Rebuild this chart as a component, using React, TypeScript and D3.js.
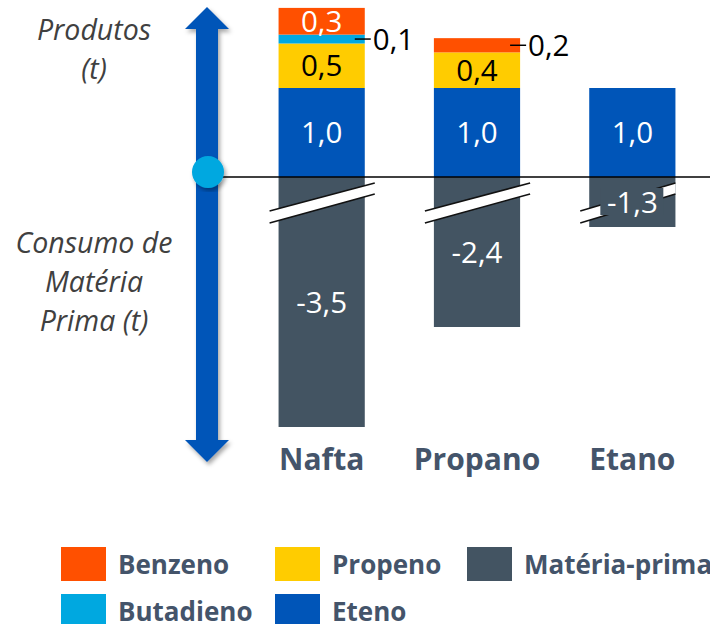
import React from 'react';
import * as d3 from 'd3';

// feedstock categories and product yields (t of product per t of ethylene)
const categories = ['Nafta', 'Propano', 'Etano'];
const eteno = [1.0, 1.0, 1.0];
const propeno = [0.5, 0.4, 0];
const butadieno = [0.1, 0, 0];
const benzeno = [0.3, 0.16, 0];
const materiaPrima = [-3.5, -2.4, -1.3];

const seriesKeys = ['Eteno', 'Propeno', 'Butadieno', 'Benzeno'];
const seriesValues: Record<string, number[]> = {
  Eteno: eteno,
  Propeno: propeno,
  Butadieno: butadieno,
  Benzeno: benzeno,
};

const COLORS: Record<string, string> = {
  Benzeno: '#FF5000',
  Butadieno: '#00A8E0',
  Propeno: '#FFCC00',
  Eteno: '#0055B8',
  'Matéria-prima': '#435462',
};
const LABEL_COLORS: Record<string, string> = {
  Benzeno: '#fff',
  Butadieno: '#000',
  Propeno: '#000',
  Eteno: '#fff',
};

const legendRows = [
  ['Benzeno', 'Propeno', 'Matéria-prima'],
  ['Butadieno', 'Eteno'],
];
const legendX = [61, 275, 467];

const W = 710;
const H = 624;
const ZERO = 177;
const TEXT_BLUE = '#44546A';
const FONT = '"Open Sans", "Noto Sans", sans-serif';

const fmt = (v: number) => d3.format('.1f')(v).replace('.', ',').replace('−', '-');

const App: React.FC = () => {
  const x = d3.scaleBand<string>().domain(categories).range([244, 710]).paddingInner(0.445).paddingOuter(0.2225);
  const yPos = d3.scaleLinear().domain([0, 1]).range([ZERO, 88]);
  // broken axis below zero: first 0.75 t cut out by the break marks
  const yNeg = d3.scaleLinear().domain([-0.75, -3.5]).range([ZERO, 427]);

  const table = categories.map((c, i) => {
    const row: any = { cat: c };
    seriesKeys.forEach(k => (row[k] = seriesValues[k][i]));
    return row;
  });
  const stacked = d3.stack<any>().keys(seriesKeys)(table);
  const bw = x.bandwidth();

  return (
    <svg width={W} height={H} style={{ position: 'absolute', left: 0, top: 0, background: '#fff' }}>
      <defs>
        <filter id="shadow" x="-50%" y="-10%" width="200%" height="120%">
          <feDropShadow dx="2" dy="3" stdDeviation="2" floodColor="#000" floodOpacity="0.35" />
        </filter>
      </defs>

      {/* left annotations */}
      <g fontFamily={FONT} fontStyle="italic" fontSize={28.5} fill="#404040" textAnchor="middle">
        <text x={94} y={40}>Produtos</text>
        <text x={94} y={79}>(t)</text>
        <text x={94} y={253}>Consumo de</text>
        <text x={94} y={292}>Matéria</text>
        <text x={94} y={331}>Prima (t)</text>
      </g>

      {/* double arrow */}
      <path
        d="M207,7 L229,29 L218,29 L218,440 L229,440 L207,462 L185,440 L196,440 L196,29 L185,29 Z"
        fill="#0055B8"
        filter="url(#shadow)"
      />

      {/* negative bars (feedstock) */}
      {categories.map((c, i) => (
        <rect key={c} x={x(c)} y={ZERO} width={bw} height={yNeg(materiaPrima[i]) - ZERO} fill={COLORS['Matéria-prima']} />
      ))}

      {/* positive stacked bars */}
      {stacked.map(s =>
        s.map((d, i) =>
          d[1] - d[0] > 0 ? (
            <rect
              key={s.key + i}
              x={x(categories[i])}
              y={yPos(d[1])}
              width={bw}
              height={yPos(d[0]) - yPos(d[1])}
              fill={COLORS[s.key]}
            />
          ) : null
        )
      )}

      {/* zero line */}
      <line x1={215} x2={W} y1={ZERO} y2={ZERO} stroke="#000" strokeWidth={1.6} />

      {/* axis break marks */}
      {categories.map((c, i) => {
        const x0 = (x(c) as number) - 9;
        const x1 = (x(c) as number) + bw + (i === categories.length - 1 ? 0 : 10);
        const yr = i === categories.length - 1 ? 0 : 0;
        return (
          <g key={c}>
            <polygon points={`${x0},${ZERO + 34} ${x1},${ZERO + 6 + yr} ${x1},${ZERO + 17 + yr} ${x0},${ZERO + 46}`} fill="#fff" />
            <line x1={x0} y1={ZERO + 34} x2={x1} y2={ZERO + 6 + yr} stroke="#111" strokeWidth={1.5} />
            <line x1={x0} y1={ZERO + 46} x2={x1} y2={ZERO + 17 + yr} stroke="#111" strokeWidth={1.5} />
          </g>
        );
      })}

      {/* circle on the arrow */}
      <circle cx={208} cy={172} r={16} fill="#00A8E0" filter="url(#shadow)" />

      {/* negative value labels */}
      {categories.map((c, i) => {
        const cx = (x(c) as number) + bw / 2;
        const cy = (ZERO + yNeg(materiaPrima[i])) / 2;
        const short = yNeg(materiaPrima[i]) - ZERO < 80;
        return (
          <g key={c}>
            {short && <rect x={cx - 32} y={cy - 14} width={63} height={27} fill={COLORS['Matéria-prima']} />}
            <text x={cx} y={cy} dy="0.36em" textAnchor="middle" fontFamily={FONT} fontSize={29.5} fill="#fff">
              {fmt(materiaPrima[i])}
            </text>
          </g>
        );
      })}

      {/* positive value labels */}
      {stacked.map(s =>
        s.map((d, i) => {
          const v = d[1] - d[0];
          if (v <= 0) return null;
          const cy = (yPos(d[0]) + yPos(d[1])) / 2;
          const left = x(categories[i]) as number;
          if (v < 0.25) {
            return (
              <g key={s.key + i}>
                <line x1={left + bw - 10} x2={left + bw + 6} y1={cy} y2={cy} stroke="#000" strokeWidth={1.5} />
                <text x={left + bw + 8} y={cy} dy="0.36em" fontFamily={FONT} fontSize={29.5} fill="#000">
                  {fmt(v)}
                </text>
              </g>
            );
          }
          return (
            <text
              key={s.key + i}
              x={left + bw / 2}
              y={cy}
              dy="0.36em"
              textAnchor="middle"
              fontFamily={FONT}
              fontSize={29.5}
              fill={LABEL_COLORS[s.key]}
            >
              {fmt(v)}
            </text>
          );
        })
      )}

      {/* category labels */}
      {categories.map(c => (
        <text
          key={c}
          x={(x(c) as number) + bw / 2}
          y={470}
          textAnchor="middle"
          fontFamily={FONT}
          fontWeight="bold"
          fontSize={30}
          fill={TEXT_BLUE}
        >
          {c}
        </text>
      ))}

      {/* legend */}
      {legendRows.map((row, r) =>
        row.map((name, j) => (
          <g key={name} transform={`translate(${legendX[j]},${547 + r * 47})`}>
            <rect width={45} height={34} fill={COLORS[name]} />
            <text x={57} y={27} fontFamily={FONT} fontWeight="bold" fontSize={26} fill={TEXT_BLUE}>
              {name}
            </text>
          </g>
        ))
      )}
    </svg>
  );
};

export default App;
